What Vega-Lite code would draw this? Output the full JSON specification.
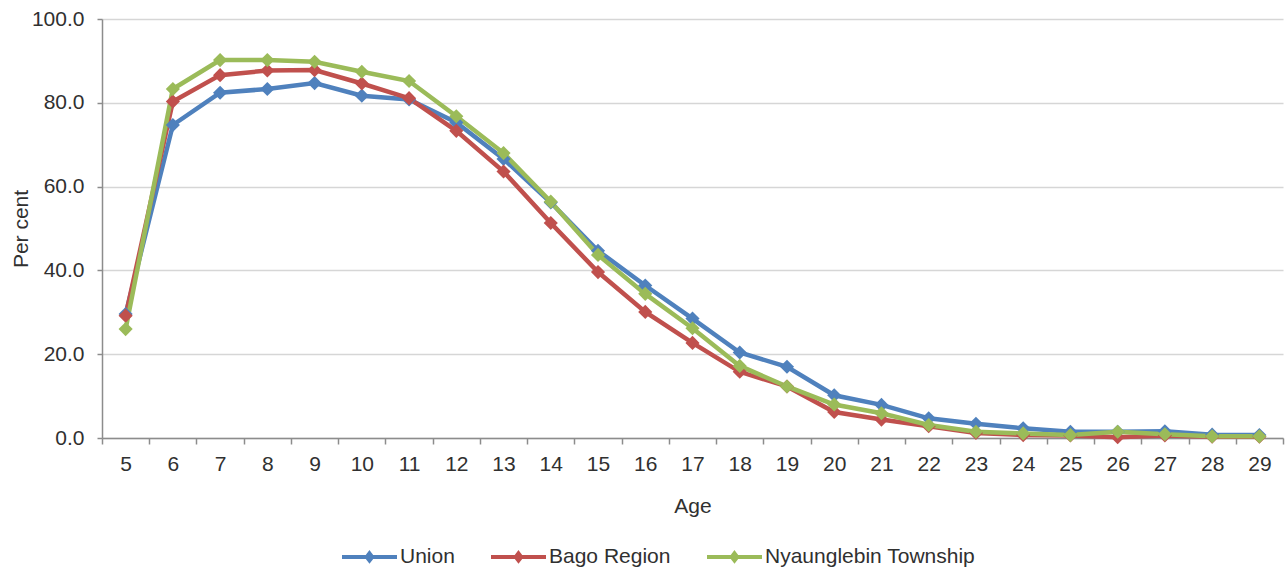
{
  "$schema": "https://vega.github.io/schema/vega-lite/v6.json",
  "width": 1181,
  "height": 419,
  "autosize": "none",
  "padding": {"left": 102, "top": 19, "right": 4, "bottom": 134},
  "background": "white",
  "config": {
    "font": "Liberation Sans",
    "view": {"stroke": null},
    "axis": {
      "labelFont": "Liberation Sans",
      "titleFont": "Liberation Sans",
      "labelFontSize": 21,
      "titleFontSize": 21,
      "titleFontWeight": "normal",
      "labelColor": "#303030",
      "titleColor": "#303030",
      "domainColor": "#8c8c8c",
      "domainWidth": 1.5,
      "tickColor": "#8c8c8c",
      "tickWidth": 1.5
    },
    "legend": {
      "labelFont": "Liberation Sans",
      "labelFontSize": 21,
      "labelColor": "#303030",
      "labelLimit": 400
    }
  },
  "data": {
    "values": [
      {"age": 5, "series": "Union", "pct": 29.6},
      {"age": 6, "series": "Union", "pct": 74.7},
      {"age": 7, "series": "Union", "pct": 82.4},
      {"age": 8, "series": "Union", "pct": 83.3},
      {"age": 9, "series": "Union", "pct": 84.7},
      {"age": 10, "series": "Union", "pct": 81.7},
      {"age": 11, "series": "Union", "pct": 80.8},
      {"age": 12, "series": "Union", "pct": 75.3},
      {"age": 13, "series": "Union", "pct": 66.6},
      {"age": 14, "series": "Union", "pct": 56.2},
      {"age": 15, "series": "Union", "pct": 44.7},
      {"age": 16, "series": "Union", "pct": 36.4},
      {"age": 17, "series": "Union", "pct": 28.5},
      {"age": 18, "series": "Union", "pct": 20.4},
      {"age": 19, "series": "Union", "pct": 17.0},
      {"age": 20, "series": "Union", "pct": 10.2},
      {"age": 21, "series": "Union", "pct": 7.9},
      {"age": 22, "series": "Union", "pct": 4.7},
      {"age": 23, "series": "Union", "pct": 3.4},
      {"age": 24, "series": "Union", "pct": 2.3},
      {"age": 25, "series": "Union", "pct": 1.5},
      {"age": 26, "series": "Union", "pct": 1.5},
      {"age": 27, "series": "Union", "pct": 1.6},
      {"age": 28, "series": "Union", "pct": 0.8},
      {"age": 29, "series": "Union", "pct": 0.7},
      {"age": 5, "series": "Bago Region", "pct": 29.2},
      {"age": 6, "series": "Bago Region", "pct": 80.3},
      {"age": 7, "series": "Bago Region", "pct": 86.6},
      {"age": 8, "series": "Bago Region", "pct": 87.7},
      {"age": 9, "series": "Bago Region", "pct": 87.8},
      {"age": 10, "series": "Bago Region", "pct": 84.6},
      {"age": 11, "series": "Bago Region", "pct": 81.1},
      {"age": 12, "series": "Bago Region", "pct": 73.3},
      {"age": 13, "series": "Bago Region", "pct": 63.6},
      {"age": 14, "series": "Bago Region", "pct": 51.3},
      {"age": 15, "series": "Bago Region", "pct": 39.6},
      {"age": 16, "series": "Bago Region", "pct": 30.1},
      {"age": 17, "series": "Bago Region", "pct": 22.7},
      {"age": 18, "series": "Bago Region", "pct": 15.8},
      {"age": 19, "series": "Bago Region", "pct": 12.3},
      {"age": 20, "series": "Bago Region", "pct": 6.2},
      {"age": 21, "series": "Bago Region", "pct": 4.4},
      {"age": 22, "series": "Bago Region", "pct": 2.8},
      {"age": 23, "series": "Bago Region", "pct": 1.2},
      {"age": 24, "series": "Bago Region", "pct": 0.7},
      {"age": 25, "series": "Bago Region", "pct": 0.6},
      {"age": 26, "series": "Bago Region", "pct": 0.2},
      {"age": 27, "series": "Bago Region", "pct": 0.6},
      {"age": 28, "series": "Bago Region", "pct": 0.3},
      {"age": 29, "series": "Bago Region", "pct": 0.3},
      {"age": 5, "series": "Nyaunglebin Township", "pct": 26.0},
      {"age": 6, "series": "Nyaunglebin Township", "pct": 83.3},
      {"age": 7, "series": "Nyaunglebin Township", "pct": 90.2},
      {"age": 8, "series": "Nyaunglebin Township", "pct": 90.2},
      {"age": 9, "series": "Nyaunglebin Township", "pct": 89.8},
      {"age": 10, "series": "Nyaunglebin Township", "pct": 87.4},
      {"age": 11, "series": "Nyaunglebin Township", "pct": 85.2},
      {"age": 12, "series": "Nyaunglebin Township", "pct": 76.8},
      {"age": 13, "series": "Nyaunglebin Township", "pct": 68.0},
      {"age": 14, "series": "Nyaunglebin Township", "pct": 56.4},
      {"age": 15, "series": "Nyaunglebin Township", "pct": 43.7},
      {"age": 16, "series": "Nyaunglebin Township", "pct": 34.4},
      {"age": 17, "series": "Nyaunglebin Township", "pct": 26.2},
      {"age": 18, "series": "Nyaunglebin Township", "pct": 17.2},
      {"age": 19, "series": "Nyaunglebin Township", "pct": 12.3},
      {"age": 20, "series": "Nyaunglebin Township", "pct": 8.0},
      {"age": 21, "series": "Nyaunglebin Township", "pct": 5.9},
      {"age": 22, "series": "Nyaunglebin Township", "pct": 3.1},
      {"age": 23, "series": "Nyaunglebin Township", "pct": 1.5},
      {"age": 24, "series": "Nyaunglebin Township", "pct": 1.1},
      {"age": 25, "series": "Nyaunglebin Township", "pct": 0.7},
      {"age": 26, "series": "Nyaunglebin Township", "pct": 1.5},
      {"age": 27, "series": "Nyaunglebin Township", "pct": 0.9},
      {"age": 28, "series": "Nyaunglebin Township", "pct": 0.4},
      {"age": 29, "series": "Nyaunglebin Township", "pct": 0.4}
    ]
  },
  "encoding": {
    "x": {
      "field": "age",
      "type": "ordinal",
      "title": "Age",
      "scale": {"paddingInner": 0, "paddingOuter": 0},
      "axis": {
        "labelAngle": 0,
        "tickBand": "extent",
        "tickSize": 6,
        "labelPadding": 9,
        "titlePadding": 21,
        "grid": false
      }
    },
    "y": {
      "field": "pct",
      "type": "quantitative",
      "title": "Per cent",
      "scale": {"domain": [0, 100], "nice": false},
      "axis": {
        "values": [0, 20, 40, 60, 80, 100],
        "format": ".1f",
        "grid": true,
        "gridColor": "#d6d6d6",
        "gridWidth": 1.5,
        "tickSize": 5,
        "labelPadding": 13,
        "titlePadding": 0
      }
    },
    "color": {
      "field": "series",
      "type": "nominal",
      "sort": ["Union", "Bago Region", "Nyaunglebin Township"],
      "scale": {
        "domain": ["Union", "Bago Region", "Nyaunglebin Township"],
        "range": ["#4f81bd", "#c0504d", "#9bbb59"]
      },
      "legend": {
        "title": null,
        "orient": "none",
        "direction": "horizontal",
        "legendX": 238,
        "legendY": 508,
        "padding": 0,
        "columnPadding": 28,
        "symbolType": "M-1,0H1M0,-0.13L0.1,0L0,0.13L-0.1,0Z",
        "symbolSize": 3025,
        "symbolStrokeWidth": 4,
        "labelOffset": 1
      }
    }
  },
  "layer": [
    {
      "mark": {"type": "line", "strokeWidth": 4.5}
    },
    {
      "mark": {"type": "point", "shape": "diamond", "filled": true, "size": 200, "opacity": 1}
    }
  ]
}
